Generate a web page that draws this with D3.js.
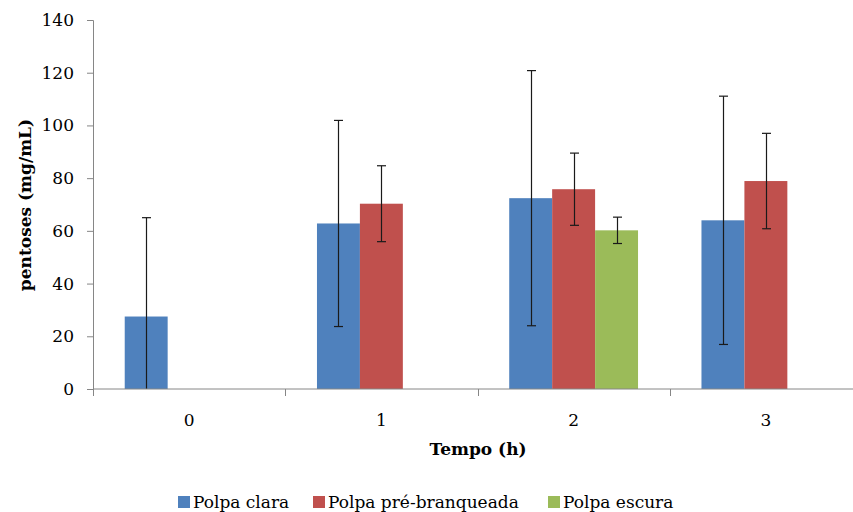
<!DOCTYPE html>
<html>
<head>
<meta charset="utf-8">
<script src="https://cdn.jsdelivr.net/npm/d3@7"></script>
<style>
  body { margin: 0; background: #fff; }
  text { font-family: "DejaVu Serif", serif; fill: #000; }
</style>
</head>
<body>
<svg id="chart"></svg>
<script>
const width = 853;
const height = 512;

const categories = ["0", "1", "2", "3"];
const seriesNames = ["Polpa clara", "Polpa pré-branqueada", "Polpa escura"];
const colors = ["#4F81BD", "#C0504D", "#9BBB59"];

// mean values per time (null = no bar)
const clara = [27.5, 62.8, 72.4, 64.0];
const preBranqueada = [null, 70.3, 75.8, 78.9];
const escura = [null, null, 60.2, null];

// standard deviations
const claraErr = [37.5, 39.1, 48.4, 47.1];
const preBranqueadaErr = [null, 14.4, 13.7, 18.1];
const escuraErr = [null, null, 5.0, null];

const yTicks = [0, 20, 40, 60, 80, 100, 120, 140];

const values = [clara, preBranqueada, escura];
const errors = [claraErr, preBranqueadaErr, escuraErr];

const margin = { top: 20, right: -9, bottom: 123, left: 93 };

const svg = d3.select("#chart")
  .attr("width", width)
  .attr("height", height);

const x = d3.scaleBand()
  .domain(categories)
  .range([margin.left, width - margin.right])
  .paddingInner(0.33)
  .paddingOuter(0.165);

const xOuter = d3.scaleBand()
  .domain(categories)
  .range([margin.left, width - margin.right]);

const xInner = d3.scaleBand()
  .domain(d3.range(seriesNames.length))
  .range([0, x.bandwidth()]);

const y = d3.scaleLinear()
  .domain([0, 140])
  .range([height - margin.bottom, margin.top]);

// bars
const data = [];
values.forEach((arr, s) => {
  arr.forEach((v, i) => {
    if (v != null) data.push({ cat: categories[i], s, v, e: errors[s][i] });
  });
});

const groups = svg.append("g");

groups.selectAll("rect")
  .data(data)
  .enter()
  .append("rect")
  .attr("x", (d) => x(d.cat) + xInner(d.s))
  .attr("y", (d) => y(d.v))
  .attr("width", xInner.bandwidth())
  .attr("height", (d) => y(0) - y(d.v))
  .attr("fill", (d) => colors[d.s]);

// error bars
const err = svg.append("g")
  .attr("stroke", "#1a1a1a")
  .attr("stroke-width", 1.2);

data.forEach((d) => {
  const cx = Math.round(x(d.cat) + xInner(d.s) + xInner.bandwidth() / 2) + 0.5;
  const lo = Math.max(0, d.v - d.e);
  const hi = d.v + d.e;
  err.append("line")
    .attr("x1", cx).attr("x2", cx)
    .attr("y1", y(lo)).attr("y2", y(hi));
  err.append("line")
    .attr("x1", cx - 4.5).attr("x2", cx + 4.5)
    .attr("y1", y(hi)).attr("y2", y(hi));
  if (d.v - d.e > 0) {
    err.append("line")
      .attr("x1", cx - 4.5).attr("x2", cx + 4.5)
      .attr("y1", y(lo)).attr("y2", y(lo));
  }
});

// y axis
const yAxis = svg.append("g")
  .attr("transform", `translate(${margin.left},0)`)
  .call(d3.axisLeft(y).tickValues(yTicks).tickSize(6).tickPadding(13));
yAxis.select(".domain").attr("stroke", "#868686");
yAxis.selectAll(".tick line").attr("stroke", "#868686");
yAxis.selectAll("text")
  .style("font-family", "DejaVu Serif")
  .attr("font-size", 17)
  .attr("fill", "#000");

// x axis: ticks at category boundaries
const xAxisG = svg.append("g")
  .attr("transform", `translate(0,${y(0)})`);
xAxisG.append("line")
  .attr("x1", margin.left)
  .attr("x2", width - margin.right)
  .attr("stroke", "#868686");
const bounds = categories.map((c) => xOuter(c)).concat([width - margin.right]);
xAxisG.selectAll(".bt")
  .data(bounds)
  .enter()
  .append("line")
  .attr("x1", (d) => Math.round(d) + 0.5)
  .attr("x2", (d) => Math.round(d) + 0.5)
  .attr("y1", 0)
  .attr("y2", 7)
  .attr("stroke", "#868686");
xAxisG.selectAll(".xl")
  .data(categories)
  .enter()
  .append("text")
  .attr("x", (d) => xOuter(d) + xOuter.bandwidth() / 2)
  .attr("y", 37)
  .attr("text-anchor", "middle")
  .attr("font-size", 17)
  .text((d) => d);

// axis titles
svg.append("text")
  .attr("x", 478)
  .attr("y", 455)
  .attr("text-anchor", "middle")
  .attr("font-size", 17)
  .attr("font-weight", "bold")
  .text("Tempo (h)");

svg.append("text")
  .attr("transform", "translate(31,205) rotate(-90)")
  .attr("text-anchor", "middle")
  .attr("font-size", 17)
  .attr("font-weight", "bold")
  .text("pentoses (mg/mL)");

// legend
const legendX = [178, 313, 548];
const legend = svg.selectAll(".legend")
  .data(seriesNames)
  .enter()
  .append("g")
  .attr("transform", (d, i) => `translate(${legendX[i]},496)`);

legend.append("rect")
  .attr("width", 12)
  .attr("height", 12)
  .attr("fill", (d, i) => colors[i]);

legend.append("text")
  .attr("x", 15)
  .attr("y", 12)
  .attr("font-size", 17)
  .text((d) => d);
</script>
</body>
</html>
